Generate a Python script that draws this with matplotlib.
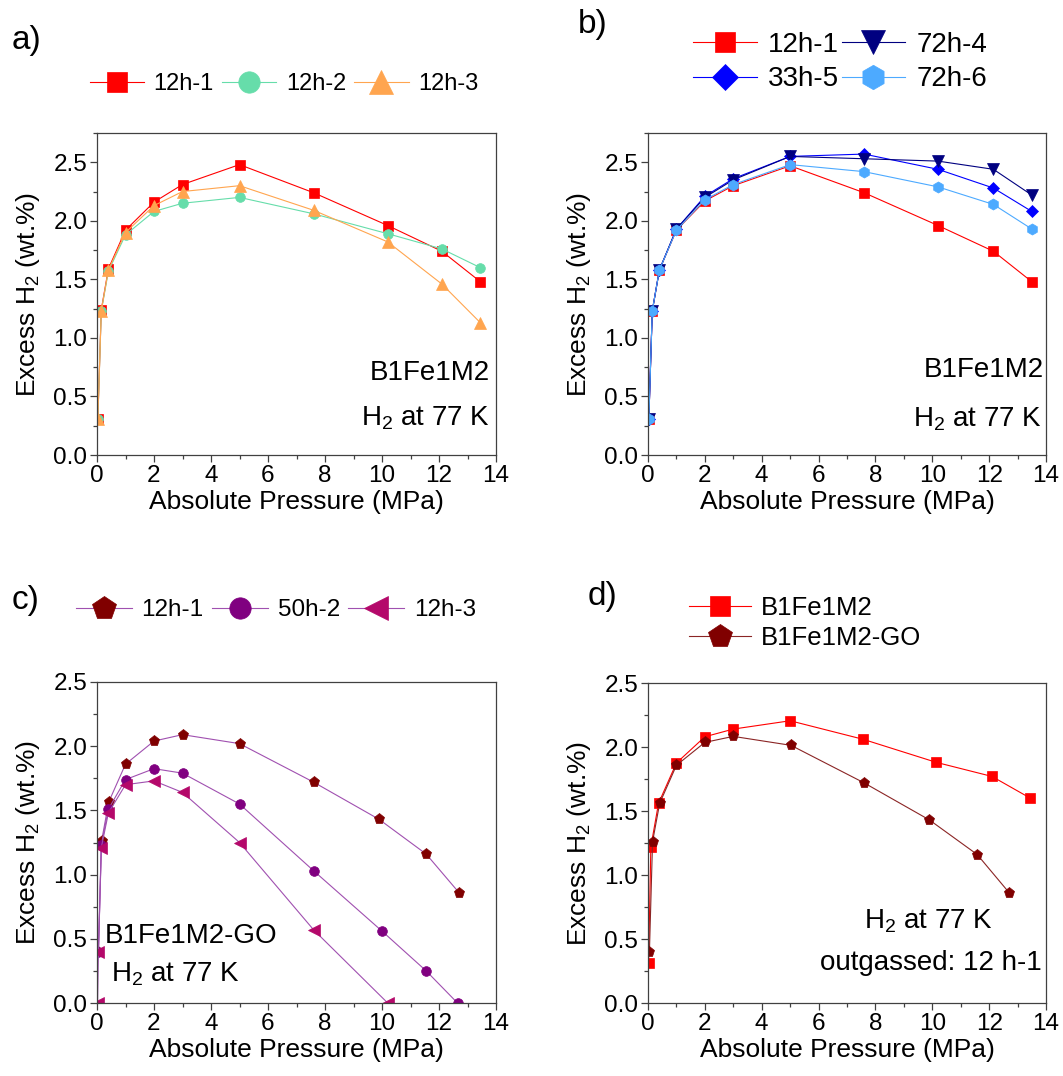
import matplotlib
matplotlib.use("Agg")
import matplotlib.pyplot as plt
from matplotlib.ticker import MultipleLocator

plt.rcParams["font.family"] = ["Liberation Sans", "DejaVu Sans"]
plt.rcParams["mathtext.fontset"] = "custom"
plt.rcParams["mathtext.rm"] = "Liberation Sans"
plt.rcParams["mathtext.default"] = "regular"

# ---- panel a: B1Fe1M2, three 12 h outgassing runs ----
a_x_1 = [0.03, 0.15, 0.4, 1.0, 2.0, 3.0, 5.0, 7.6, 10.2, 12.1, 13.45]
a_y_1 = [0.31, 1.24, 1.59, 1.92, 2.16, 2.31, 2.48, 2.24, 1.96, 1.74, 1.48]
a_x_2 = [0.03, 0.15, 0.4, 1.0, 2.0, 3.0, 5.0, 7.6, 10.2, 12.1, 13.45]
a_y_2 = [0.31, 1.23, 1.57, 1.88, 2.08, 2.15, 2.20, 2.06, 1.89, 1.76, 1.60]
a_x_3 = [0.03, 0.15, 0.4, 1.0, 2.0, 3.0, 5.0, 7.6, 10.2, 12.1, 13.45]
a_y_3 = [0.31, 1.23, 1.58, 1.90, 2.13, 2.25, 2.30, 2.09, 1.82, 1.46, 1.13]

# ---- panel b: B1Fe1M2, different outgassing times ----
b_x = [0.03, 0.15, 0.4, 1.0, 2.0, 3.0, 5.0, 7.6, 10.2, 12.15, 13.5]
b_y_12h1 = [0.31, 1.23, 1.58, 1.92, 2.17, 2.30, 2.47, 2.24, 1.96, 1.74, 1.48]
b_y_72h4 = [0.31, 1.23, 1.58, 1.93, 2.20, 2.35, 2.55, 2.53, 2.51, 2.44, 2.22]
b_y_33h5 = [0.31, 1.23, 1.58, 1.93, 2.21, 2.36, 2.55, 2.57, 2.44, 2.28, 2.08]
b_y_72h6 = [0.31, 1.23, 1.58, 1.92, 2.18, 2.31, 2.48, 2.42, 2.29, 2.14, 1.93]

# ---- panel c: B1Fe1M2-GO ----
c_x_1 = [0.05, 0.16, 0.41, 1.0, 2.0, 3.0, 5.0, 7.6, 9.9, 11.55, 12.7]
c_y_1 = [0.40, 1.26, 1.565, 1.86, 2.04, 2.09, 2.02, 1.72, 1.43, 1.16, 0.86]
c_x_2 = [0.05, 0.15, 0.4, 1.0, 2.0, 3.0, 5.0, 7.6, 10.0, 11.55, 12.65]
c_y_2 = [0.40, 1.23, 1.51, 1.74, 1.825, 1.79, 1.55, 1.03, 0.56, 0.25, 0.0]
c_x_3 = [0.02, 0.05, 0.15, 0.4, 1.0, 2.0, 3.0, 5.0, 7.6, 10.2]
c_y_3 = [0.0, 0.40, 1.21, 1.48, 1.70, 1.73, 1.64, 1.25, 0.57, 0.0]

# ---- panel d: comparison ----
d_x_m2 = [0.02, 0.1, 0.37, 1.0, 2.0, 3.0, 5.0, 7.57, 10.14, 12.1, 13.45]
d_y_m2 = [0.31, 1.22, 1.56, 1.875, 2.08, 2.14, 2.205, 2.06, 1.88, 1.77, 1.60]
d_x_go = [0.05, 0.16, 0.41, 1.0, 2.0, 3.0, 5.03, 7.6, 9.9, 11.58, 12.71]
d_y_go = [0.40, 1.26, 1.56, 1.857, 2.036, 2.083, 2.013, 1.72, 1.43, 1.16, 0.86]

RED = "#FF0000"
GREEN = "#66DDAA"
ORANGE = "#FFA54F"
NAVY = "#000080"
BLUE = "#0000FF"
LBLUE = "#4DAAFF"
MAROON = "#800000"
PURPLE = "#800080"
MAGENTA = "#B4086A"
CLINE = "#A050B0"

W, H = 1063, 1076
fig = plt.figure(figsize=(W / 100, H / 100), dpi=100)


def make_axes(left, top, right, bottom, ymax):
    ax = fig.add_axes([left / W, 1 - bottom / H, (right - left) / W, (bottom - top) / H])
    ax.set_xlim(0, 14)
    ax.set_ylim(0, ymax)
    ax.xaxis.set_major_locator(MultipleLocator(2))
    ax.xaxis.set_minor_locator(MultipleLocator(1))
    ax.yaxis.set_major_locator(MultipleLocator(0.5))
    ax.yaxis.set_minor_locator(MultipleLocator(0.25))
    ax.yaxis.set_major_formatter(plt.FormatStrFormatter("%.1f"))
    ax.tick_params(which="both", direction="out", top=False, right=False,
                   labelsize=17.5, color="#404040", width=0.9)
    ax.tick_params(which="major", length=5, pad=2)
    ax.tick_params(which="minor", length=3)
    for s in ax.spines.values():
        s.set_color("#404040")
        s.set_linewidth(0.9)
    ax.set_xlabel("Absolute Pressure (MPa)", fontsize=19, labelpad=2)
    ax.set_ylabel("Excess H$_2$ (wt.%)", fontsize=19, labelpad=8)
    return ax


def series(ax, x, y, color, marker, ms, label, lcolor=None):
    ax.plot(x, y, color=lcolor or color, lw=0.8, marker=marker, ms=ms,
            mfc=color, mec=color, mew=0.5, label=label)


# a
ax = make_axes(97, 133, 496, 455, 2.75)
series(ax, a_x_1, a_y_1, RED, "s", 6.5, "12h-1")
series(ax, a_x_2, a_y_2, GREEN, "o", 7, "12h-2")
series(ax, a_x_3, a_y_3, ORANGE, "^", 8, "12h-3")
ax.text(0.985, 0.255, "B1Fe1M2", transform=ax.transAxes, ha="right", va="center", fontsize=20)
ax.text(0.985, 0.115, "H$_2$ at 77 K", transform=ax.transAxes, ha="right", va="center", fontsize=20)
ax.legend(loc="center", bbox_to_anchor=(284 / W, 1 - 84 / H), bbox_transform=fig.transFigure,
          ncol=3, frameon=False, fontsize=17, markerscale=2.2, handlelength=2.3,
          handletextpad=0.4, columnspacing=0.35)
fig.text(12 / W, 1 - 41 / H, "a)", fontsize=24, va="center")

# b
ax = make_axes(648, 133, 1046, 455, 2.75)
series(ax, b_x, b_y_12h1, RED, "s", 6.5, "12h-1")
series(ax, b_x, b_y_33h5, BLUE, "D", 6, "33h-5")
series(ax, b_x, b_y_72h4, NAVY, "v", 8, "72h-4")
series(ax, b_x, b_y_72h6, LBLUE, "h", 8, "72h-6")
ax.text(0.995, 0.265, "B1Fe1M2", transform=ax.transAxes, ha="right", va="center", fontsize=20)
ax.text(0.99, 0.11, "H$_2$ at 77 K", transform=ax.transAxes, ha="right", va="center", fontsize=20)
ax.legend(loc="center", bbox_to_anchor=(840 / W, 1 - 62 / H), bbox_transform=fig.transFigure,
          ncol=2, frameon=False, fontsize=20, markerscale=2.2, handlelength=2.3,
          handletextpad=0.4, columnspacing=0.1, labelspacing=0.32)
fig.text(578 / W, 1 - 25 / H, "b)", fontsize=24, va="center")

# c
ax = make_axes(97, 682, 496, 1003, 2.5)
series(ax, c_x_1, c_y_1, MAROON, "p", 8, "12h-1", CLINE)
series(ax, c_x_2, c_y_2, PURPLE, "o", 7, "50h-2", CLINE)
series(ax, c_x_3, c_y_3, MAGENTA, "<", 8, "12h-3", CLINE)
ax.text(0.02, 0.21, "B1Fe1M2-GO", transform=ax.transAxes, ha="left", va="center", fontsize=20)
ax.text(0.035, 0.09, "H$_2$ at 77 K", transform=ax.transAxes, ha="left", va="center", fontsize=20)
ax.legend(loc="center", bbox_to_anchor=(276 / W, 1 - 610 / H), bbox_transform=fig.transFigure,
          ncol=3, frameon=False, fontsize=17.5, markerscale=2.2, handlelength=2.3,
          handletextpad=0.4, columnspacing=0.35)
fig.text(12 / W, 1 - 601 / H, "c)", fontsize=24, va="center")

# d
ax = make_axes(648, 683, 1046, 1003, 2.5)
series(ax, d_x_m2, d_y_m2, RED, "s", 6.5, "B1Fe1M2")
series(ax, d_x_go, d_y_go, MAROON, "p", 8, "B1Fe1M2-GO", "#8B2525")
ax.text(0.705, 0.255, "H$_2$ at 77 K", transform=ax.transAxes, ha="center", va="center", fontsize=20)
ax.text(0.99, 0.125, "outgassed: 12 h-1", transform=ax.transAxes, ha="right", va="center", fontsize=20)
ax.legend(loc="center", bbox_to_anchor=(805 / W, 1 - 623 / H), bbox_transform=fig.transFigure,
          ncol=1, frameon=False, fontsize=18.5, markerscale=2.2, handlelength=2.4,
          handletextpad=0.4, labelspacing=0.25)
fig.text(588 / W, 1 - 596 / H, "d)", fontsize=24, va="center")

fig.savefig("out.png", dpi=100)
